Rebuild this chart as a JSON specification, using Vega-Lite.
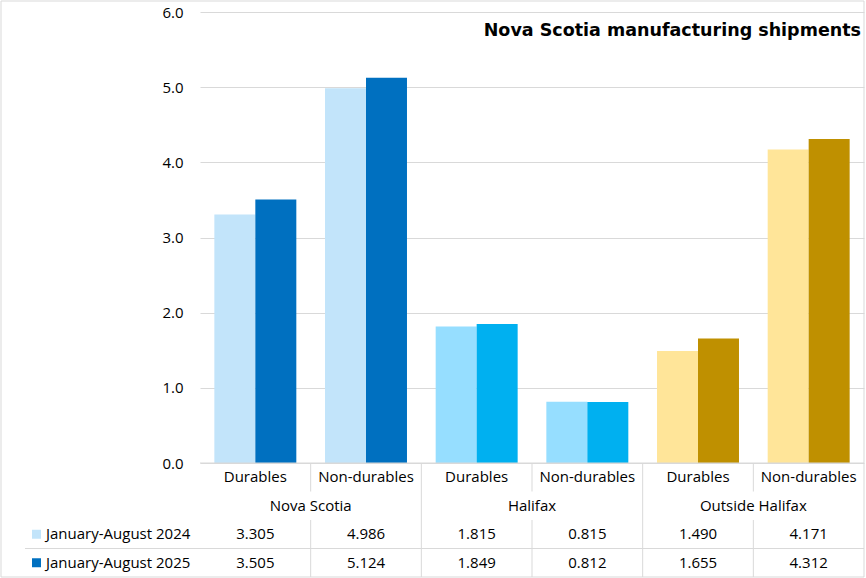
{
  "$schema": "https://vega.github.io/schema/vega-lite/v6.json",
  "width": 664,
  "height": 565,
  "autosize": {"type": "none"},
  "padding": {"left": 200, "top": 12, "right": 2, "bottom": 1},
  "background": "white",
  "config": {
    "view": {"stroke": null},
    "font": "Open Sans",
    "text": {"font": "Open Sans", "fontSize": 15, "color": "black"}
  },
  "title": {
    "text": "Nova Scotia manufacturing shipments",
    "anchor": "end",
    "frame": "group",
    "orient": "top",
    "font": "DejaVu Sans",
    "fontSize": 17.5,
    "fontWeight": "bold",
    "color": "black",
    "baseline": "alphabetic",
    "offset": -53,
    "dx": -3
  },
  "data": {
    "values": [
      {"region": "Nova Scotia", "type": "Durables", "year": "January-August 2024", "value": 3.305},
      {"region": "Nova Scotia", "type": "Durables", "year": "January-August 2025", "value": 3.505},
      {"region": "Nova Scotia", "type": "Non-durables", "year": "January-August 2024", "value": 4.986},
      {"region": "Nova Scotia", "type": "Non-durables", "year": "January-August 2025", "value": 5.124},
      {"region": "Halifax", "type": "Durables", "year": "January-August 2024", "value": 1.815},
      {"region": "Halifax", "type": "Durables", "year": "January-August 2025", "value": 1.849},
      {"region": "Halifax", "type": "Non-durables", "year": "January-August 2024", "value": 0.815},
      {"region": "Halifax", "type": "Non-durables", "year": "January-August 2025", "value": 0.812},
      {"region": "Outside Halifax", "type": "Durables", "year": "January-August 2024", "value": 1.490},
      {"region": "Outside Halifax", "type": "Durables", "year": "January-August 2025", "value": 1.655},
      {"region": "Outside Halifax", "type": "Non-durables", "year": "January-August 2024", "value": 4.171},
      {"region": "Outside Halifax", "type": "Non-durables", "year": "January-August 2025", "value": 4.312}
    ]
  },
  "transform": [
    {"calculate": "datum.region + '|' + datum.type", "as": "cat"},
    {"calculate": "datum.region + '|' + datum.year", "as": "key"}
  ],
  "layer": [
    {
      "mark": {"type": "bar"},
      "encoding": {
        "x": {"field": "cat", "type": "nominal", "scale": {"domain": ["Nova Scotia|Durables", "Nova Scotia|Non-durables", "Halifax|Durables", "Halifax|Non-durables", "Outside Halifax|Durables", "Outside Halifax|Non-durables"], "paddingInner": 0, "paddingOuter": 0}, "axis": null},
        "xOffset": {"field": "year", "type": "nominal", "scale": {"domain": ["January-August 2024", "January-August 2025"], "paddingInner": 0, "paddingOuter": 0.35}},
        "y": {"field": "value", "type": "quantitative", "scale": {"domain": [0, 6], "range": [451, 0], "nice": false, "zero": true},
          "axis": {"values": [0, 1, 2, 3, 4, 5, 6], "format": ".1f", "domain": false, "ticks": false, "grid": true, "gridColor": "#d9d9d9", "gridWidth": 1, "labelPadding": 17, "labelFont": "Open Sans", "labelFontSize": 15, "labelColor": "black", "title": null}},
        "color": {"field": "key", "type": "nominal", "scale": {"domain": ["Nova Scotia|January-August 2024", "Nova Scotia|January-August 2025", "Halifax|January-August 2024", "Halifax|January-August 2025", "Outside Halifax|January-August 2024", "Outside Halifax|January-August 2025"], "range": ["#C2E4FA", "#0070C0", "#96DEFF", "#00B0F0", "#FFE599", "#BF9000"]}, "legend": null}
      }
    },
    {
      "mark": {"type": "text", "fontSize": 15},
      "encoding": {
        "x": {"field": "cat", "type": "nominal", "scale": {"domain": ["Nova Scotia|Durables", "Nova Scotia|Non-durables", "Halifax|Durables", "Halifax|Non-durables", "Outside Halifax|Durables", "Outside Halifax|Non-durables"], "paddingInner": 0, "paddingOuter": 0}, "axis": null},
        "y": {"field": "year", "type": "nominal", "scale": {"domain": ["hdr", "reg", "January-August 2024", "January-August 2025"], "range": [451, 565], "paddingInner": 0, "paddingOuter": 0}, "axis": null},
        "text": {"field": "value", "type": "quantitative", "format": ".3f"}
      }
    },
    {
      "transform": [{"filter": "datum.year == 'January-August 2024'"}],
      "mark": {"type": "text", "fontSize": 15},
      "encoding": {
        "x": {"field": "cat", "type": "nominal", "scale": {"domain": ["Nova Scotia|Durables", "Nova Scotia|Non-durables", "Halifax|Durables", "Halifax|Non-durables", "Outside Halifax|Durables", "Outside Halifax|Non-durables"], "paddingInner": 0, "paddingOuter": 0}, "axis": null},
        "y": {"datum": "hdr", "type": "nominal", "scale": {"domain": ["hdr", "reg", "January-August 2024", "January-August 2025"], "range": [451, 565], "paddingInner": 0, "paddingOuter": 0}, "axis": null},
        "text": {"field": "type", "type": "nominal"}
      }
    },
    {
      "transform": [{"filter": "datum.year == 'January-August 2024' && datum.type == 'Durables'"}],
      "mark": {"type": "text", "fontSize": 15},
      "encoding": {
        "x": {"field": "region", "type": "nominal", "scale": {"domain": ["Nova Scotia", "Halifax", "Outside Halifax"], "paddingInner": 0, "paddingOuter": 0}, "axis": null},
        "y": {"datum": "reg", "type": "nominal", "scale": {"domain": ["hdr", "reg", "January-August 2024", "January-August 2025"], "range": [451, 565], "paddingInner": 0, "paddingOuter": 0}, "axis": null},
        "text": {"field": "region", "type": "nominal"}
      }
    },
    {
      "transform": [{"filter": "datum.region == 'Nova Scotia' && datum.type == 'Durables'"}],
      "mark": {"type": "text", "fontSize": 15, "align": "left", "dx": 21},
      "encoding": {
        "x": {"datum": 0, "type": "quantitative", "scale": {"domain": [0, 1], "range": [-175, 0]}, "axis": null},
        "y": {"field": "year", "type": "nominal", "scale": {"domain": ["hdr", "reg", "January-August 2024", "January-August 2025"], "range": [451, 565], "paddingInner": 0, "paddingOuter": 0}, "axis": null},
        "text": {"field": "year", "type": "nominal"}
      }
    },
    {
      "transform": [{"filter": "datum.region == 'Nova Scotia' && datum.type == 'Durables'"}],
      "mark": {"type": "point", "shape": "square", "filled": true, "size": 81, "opacity": 1, "strokeWidth": 0, "xOffset": 11.5},
      "encoding": {
        "x": {"datum": 0, "type": "quantitative", "scale": {"domain": [0, 1], "range": [-175, 0]}, "axis": null},
        "y": {"field": "year", "type": "nominal", "scale": {"domain": ["hdr", "reg", "January-August 2024", "January-August 2025"], "range": [451, 565], "paddingInner": 0, "paddingOuter": 0}, "axis": null},
        "color": {"field": "key", "type": "nominal"}
      }
    },
    {
      "transform": [{"filter": "datum.key == 'Nova Scotia|January-August 2024' && datum.type == 'Durables'"}],
      "mark": {"type": "rule", "color": "#d9d9d9", "strokeWidth": 1},
      "encoding": {
        "y": {"datum": "hdr", "type": "nominal", "bandPosition": 0, "scale": {"domain": ["hdr", "reg", "January-August 2024", "January-August 2025"], "range": [451, 565], "paddingInner": 0, "paddingOuter": 0}, "axis": null}
      }
    },
    {
      "transform": [{"filter": "datum.key == 'Nova Scotia|January-August 2024' && datum.type == 'Durables'"}],
      "mark": {"type": "rule", "color": "#d9d9d9", "strokeWidth": 1},
      "encoding": {
        "x": {"datum": 0, "type": "quantitative", "scale": {"domain": [0, 1], "range": [-175, 664]}, "axis": null},
        "x2": {"datum": 1},
        "y": {"datum": "January-August 2025", "type": "nominal", "bandPosition": 0, "scale": {"domain": ["hdr", "reg", "January-August 2024", "January-August 2025"], "range": [451, 565], "paddingInner": 0, "paddingOuter": 0}, "axis": null}
      }
    },
    {
      "transform": [{"filter": "datum.year == 'January-August 2024' && datum.type == 'Non-durables'"}],
      "mark": {"type": "rule", "color": "#d9d9d9", "strokeWidth": 1},
      "encoding": {
        "x": {"field": "cat", "type": "nominal", "bandPosition": 0, "scale": {"domain": ["Nova Scotia|Durables", "Nova Scotia|Non-durables", "Halifax|Durables", "Halifax|Non-durables", "Outside Halifax|Durables", "Outside Halifax|Non-durables"], "paddingInner": 0, "paddingOuter": 0}, "axis": null},
        "y": {"datum": "hdr", "type": "nominal", "bandPosition": 0, "scale": {"domain": ["hdr", "reg", "January-August 2024", "January-August 2025"], "range": [451, 565], "paddingInner": 0, "paddingOuter": 0}, "axis": null},
        "y2": {"datum": "reg", "bandPosition": 0}
      }
    },
    {
      "transform": [{"filter": "datum.year == 'January-August 2024' && datum.type == 'Non-durables'"}],
      "mark": {"type": "rule", "color": "#d9d9d9", "strokeWidth": 1},
      "encoding": {
        "x": {"field": "cat", "type": "nominal", "bandPosition": 0, "scale": {"domain": ["Nova Scotia|Durables", "Nova Scotia|Non-durables", "Halifax|Durables", "Halifax|Non-durables", "Outside Halifax|Durables", "Outside Halifax|Non-durables"], "paddingInner": 0, "paddingOuter": 0}, "axis": null},
        "y": {"datum": "January-August 2024", "type": "nominal", "bandPosition": 0, "scale": {"domain": ["hdr", "reg", "January-August 2024", "January-August 2025"], "range": [451, 565], "paddingInner": 0, "paddingOuter": 0}, "axis": null},
        "y2": {"datum": "January-August 2025", "bandPosition": 1}
      }
    },
    {
      "transform": [{"filter": "datum.year == 'January-August 2024' && datum.type == 'Durables' && datum.region != 'Nova Scotia'"}],
      "mark": {"type": "rule", "color": "#d9d9d9", "strokeWidth": 1},
      "encoding": {
        "x": {"field": "cat", "type": "nominal", "bandPosition": 0, "scale": {"domain": ["Nova Scotia|Durables", "Nova Scotia|Non-durables", "Halifax|Durables", "Halifax|Non-durables", "Outside Halifax|Durables", "Outside Halifax|Non-durables"], "paddingInner": 0, "paddingOuter": 0}, "axis": null},
        "y": {"datum": "hdr", "type": "nominal", "bandPosition": 0, "scale": {"domain": ["hdr", "reg", "January-August 2024", "January-August 2025"], "range": [451, 565], "paddingInner": 0, "paddingOuter": 0}, "axis": null},
        "y2": {"datum": "January-August 2025", "bandPosition": 1}
      }
    },
    {
      "transform": [{"filter": "datum.key == 'Nova Scotia|January-August 2024' && datum.type == 'Durables'"}],
      "mark": {"type": "rect", "filled": false, "color": "#d9d9d9", "strokeWidth": 1},
      "encoding": {
        "x": {"datum": 0, "type": "quantitative", "scale": {"domain": [0, 1], "range": [-199, 664]}, "axis": null},
        "x2": {"datum": 1},
        "y": {"datum": 0, "type": "quantitative", "scale": {"domain": [0, 1], "range": [-11, 565]}, "axis": null},
        "y2": {"datum": 1}
      }
    }
  ],
  "resolve": {"scale": {"x": "independent", "y": "independent"}}
}
